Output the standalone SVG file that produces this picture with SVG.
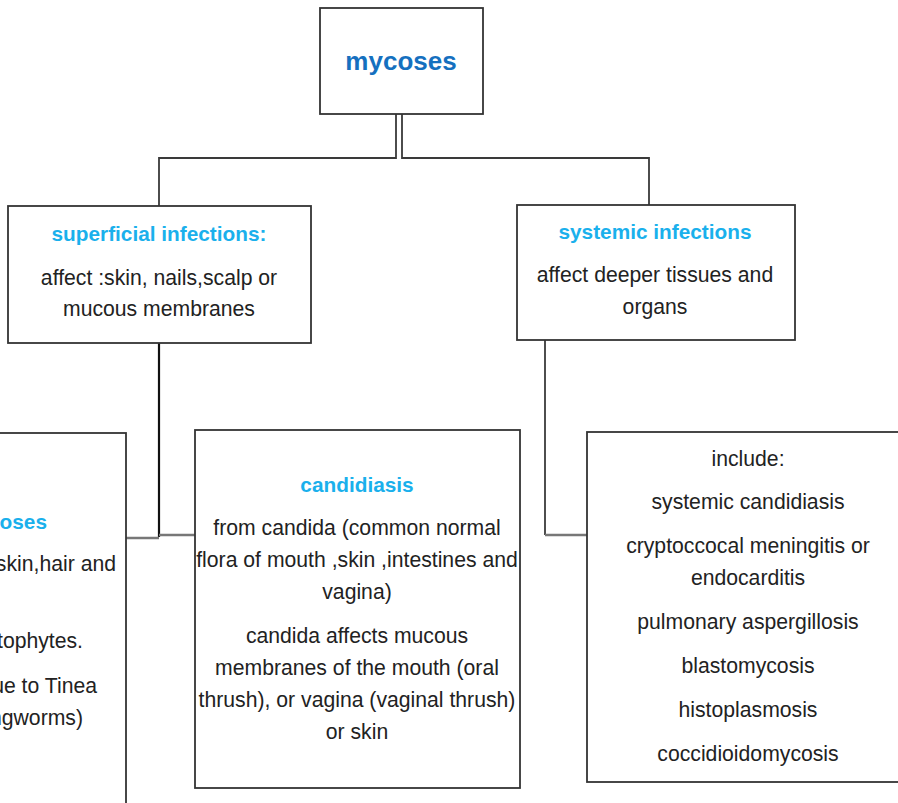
<svg xmlns="http://www.w3.org/2000/svg" width="898" height="803" viewBox="0 0 898 803">
<style>
.box{fill:#fff;stroke:#333;stroke-width:1.8}
.ln{fill:none;stroke:#3a3a3a;stroke-width:1.8}
.ln2{fill:none;stroke:#777;stroke-width:2.6}
.t{font-family:"Liberation Sans",Arial,sans-serif;font-size:21.2px;fill:#222;text-anchor:middle}
.h{font-family:"Liberation Sans",Arial,sans-serif;font-size:20.8px;font-weight:bold;fill:#1ab0ec;text-anchor:middle}
.r{text-anchor:end}
</style>
<rect width="898" height="803" fill="#fff"/>
<g id="connectors">
<path class="ln" d="M396,114 V158 H159 V206"/>
<path class="ln" d="M402,114 V158 H649 V205"/>
<path class="ln" d="M159,343 V537" style="stroke:#111;stroke-width:2.2"/>
<path class="ln2" d="M126,538 H159"/>
<path class="ln2" d="M159,535 H195"/>
<path class="ln" d="M545,340 V535"/>
<path class="ln2" d="M545,535 H587"/>
</g>
<g id="mycoses">
<rect class="box" x="320" y="8" width="163" height="106"/>
<text x="401" y="70" style="font-family:'Liberation Sans',Arial,sans-serif;font-size:26px;font-weight:bold;fill:#1570bf;text-anchor:middle">mycoses</text>
</g>
<g id="superficial">
<rect class="box" x="8" y="206" width="303" height="137"/>
<text class="h" x="159" y="241">superficial infections:</text>
<text class="t" x="159" y="285">affect :skin, nails,scalp or</text>
<text class="t" x="159" y="316">mucous membranes</text>
</g>
<g id="systemic">
<rect class="box" x="517" y="205" width="278" height="135"/>
<text class="h" x="655" y="239">systemic infections</text>
<text class="t" x="655" y="282">affect deeper tissues and</text>
<text class="t" x="655" y="314">organs</text>
</g>
<g id="left-box">
<rect class="box" x="-10" y="433" width="136" height="380"/>
<text class="h r" x="47" y="529">coses</text>
<text class="t r" x="116" y="571">skin,hair and</text>
<text class="t r" x="83" y="648">tophytes.</text>
<text class="t r" x="97" y="693">ue to Tinea</text>
<text class="t r" x="83" y="725">ngworms)</text>
</g>
<g id="candidiasis">
<rect class="box" x="195" y="430" width="325" height="358"/>
<text class="h" x="357" y="492">candidiasis</text>
<text class="t" x="357" y="535">from candida (common normal</text>
<text class="t" x="357" y="567">flora of mouth ,skin ,intestines and</text>
<text class="t" x="357" y="599">vagina)</text>
<text class="t" x="357" y="643">candida affects mucous</text>
<text class="t" x="357" y="675">membranes of the mouth (oral</text>
<text class="t" x="357" y="707">thrush), or vagina (vaginal thrush)</text>
<text class="t" x="357" y="739">or skin</text>
</g>
<g id="systemic-list">
<rect class="box" x="587" y="432" width="330" height="350"/>
<text class="t" x="748" y="466">include:</text>
<text class="t" x="748" y="509">systemic candidiasis</text>
<text class="t" x="748" y="553">cryptoccocal meningitis or</text>
<text class="t" x="748" y="585">endocarditis</text>
<text class="t" x="748" y="629">pulmonary aspergillosis</text>
<text class="t" x="748" y="673">blastomycosis</text>
<text class="t" x="748" y="717">histoplasmosis</text>
<text class="t" x="748" y="761">coccidioidomycosis</text>
</g>
</svg>
